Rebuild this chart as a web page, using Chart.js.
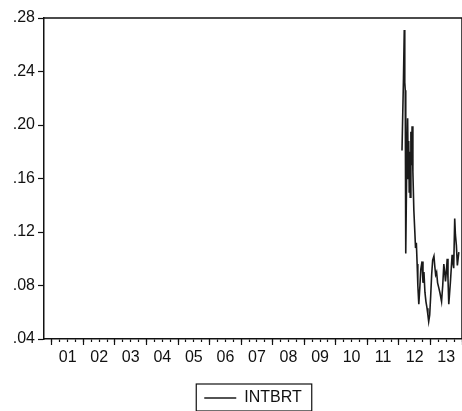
<!DOCTYPE html>
<html>
<head>
<meta charset="utf-8">
<script src="https://cdn.jsdelivr.net/npm/chart.js@4.4.0/dist/chart.umd.min.js"></script>
<style>
  body { margin: 0; background: #fff; overflow: hidden; }
  #wrap { width: 468px; height: 411px; }
</style>
</head>
<body>
<div id="wrap"><canvas id="myChart" width="468" height="411"></canvas></div>
<script>
// series INTBRT, dates as decimal years
var dates = [2012.098, 2012.145, 2012.170, 2012.186, 2012.201, 2012.217, 2012.248, 2012.277,
  2012.295, 2012.311, 2012.327, 2012.342, 2012.358, 2012.380, 2012.399, 2012.418,
  2012.443, 2012.474, 2012.505, 2012.527, 2012.553, 2012.578, 2012.600, 2012.631,
  2012.662, 2012.694, 2012.734, 2012.763, 2012.794, 2012.825, 2012.857, 2012.891,
  2012.919, 2012.944, 2012.976, 2013.007, 2013.038, 2013.070, 2013.111, 2013.139,
  2013.164, 2013.195, 2013.226, 2013.267, 2013.305, 2013.352, 2013.389, 2013.424,
  2013.452, 2013.477, 2013.509, 2013.531, 2013.556, 2013.581, 2013.609, 2013.634,
  2013.665, 2013.687, 2013.712, 2013.737, 2013.769, 2013.791, 2013.822, 2013.853,
  2013.900];
var intbrt = [0.181, 0.235, 0.271, 0.232, 0.226, 0.104, 0.170, 0.205,
  0.160, 0.188, 0.150, 0.180, 0.146, 0.195, 0.170, 0.199,
  0.165, 0.136, 0.120, 0.108, 0.112, 0.096, 0.080, 0.066,
  0.078, 0.092, 0.098, 0.082, 0.090, 0.075, 0.068, 0.063,
  0.058, 0.053, 0.058, 0.072, 0.088, 0.099, 0.102, 0.094,
  0.088, 0.090, 0.082, 0.078, 0.074, 0.068, 0.080, 0.096,
  0.090, 0.083, 0.092, 0.100, 0.085, 0.066, 0.075, 0.083,
  0.095, 0.103, 0.097, 0.093, 0.130, 0.118, 0.110, 0.095,
  0.105];
var yTicks = [0.04, 0.08, 0.12, 0.16, 0.20, 0.24, 0.28];
var years = ['01','02','03','04','05','06','07','08','09','10','11','12','13'];

var xMin = 2000.75, xMax = 2014.0;
var font = { family: 'Liberation Sans, Arial, sans-serif', size: 16 };

var points = dates.map(function(d, i){ return { x: d, y: intbrt[i] }; });

// frame on top/right of the plot and box around the legend
var framePlugin = {
  id: 'frame',
  afterDraw: function(chart){
    var ctx = chart.ctx, a = chart.chartArea;
    ctx.save();
    ctx.strokeStyle = '#111';
    ctx.lineWidth = 1.5;
    ctx.beginPath();
    ctx.moveTo(a.left, a.top);
    ctx.lineTo(a.right, a.top);
    ctx.lineTo(a.right, a.bottom);
    ctx.stroke();
    var hb = chart.legend.legendHitBoxes[0];
    if (hb) {
      ctx.lineWidth = 1.2;
      ctx.strokeRect(hb.left - 8, hb.top - 6, hb.width + 18, hb.height + 11);
    }
    ctx.restore();
  }
};

var ctx = document.getElementById('myChart').getContext('2d');
var myChart = new Chart(ctx, {
  type: 'line',
  data: {
    datasets: [{
      label: 'INTBRT',
      data: points,
      borderColor: '#1a1a1a',
      backgroundColor: '#1a1a1a',
      borderWidth: 1.6,
      pointRadius: 0,
      tension: 0,
      fill: false
    }]
  },
  options: {
    responsive: false,
    animation: false,
    layout: { padding: { top: 18, right: 0, left: 0, bottom: -5 } },
    plugins: {
      tooltip: { enabled: false },
      legend: {
        position: 'bottom',
        fullSize: false,
        labels: {
          font: font,
          color: '#111',
          usePointStyle: true,
          pointStyle: 'line',
          pointStyleWidth: 32,
          padding: 6
        }
      }
    },
    scales: {
      x: {
        type: 'linear',
        position: 'bottom',
        min: xMin,
        max: xMax,
        afterBuildTicks: function(scale){
          var t = [];
          for (var q = 2001 * 4; q <= 2014 * 4; q++) t.push({ value: q / 4 });
          scale.ticks = t;
        },
        afterFit: function(scale){ scale.height = 45; },
        ticks: {
          autoSkip: false,
          maxRotation: 0,
          padding: 6,
          font: font,
          color: '#111',
          callback: function(v){
            var f = v - Math.floor(v);
            if (Math.abs(f - 0.5) > 0.01) return '';
            var i = Math.floor(v) - 2001;
            return years[i] || '';
          }
        },
        grid: { drawOnChartArea: false, tickLength: 3, tickColor: '#111', tickWidth: 1.2 },
        border: { display: true, color: '#111', width: 1.5 }
      },
      xMaj: {
        type: 'linear',
        position: { y: 0.04 },
        min: xMin,
        max: xMax,
        afterBuildTicks: function(scale){
          var t = [];
          for (var y = 2001; y <= 2014; y++) t.push({ value: y });
          scale.ticks = t;
        },
        ticks: { display: false, autoSkip: false },
        grid: { drawOnChartArea: false, tickLength: 6, tickColor: '#111', tickWidth: 1.2 },
        border: { display: false }
      },
      y: {
        min: 0.04,
        max: 0.28,
        afterBuildTicks: function(scale){
          scale.ticks = yTicks.map(function(v){ return { value: v }; });
        },
        afterFit: function(scale){ scale.width = 44; },
        ticks: {
          padding: 3,
          font: font,
          color: '#111',
          callback: function(v){ return v.toFixed(2).replace(/^0/, ''); }
        },
        grid: { drawOnChartArea: false, tickLength: 6, tickColor: '#111', tickWidth: 1.2 },
        border: { display: true, color: '#111', width: 1.5 }
      }
    }
  },
  plugins: [framePlugin]
});
</script>
</body>
</html>
